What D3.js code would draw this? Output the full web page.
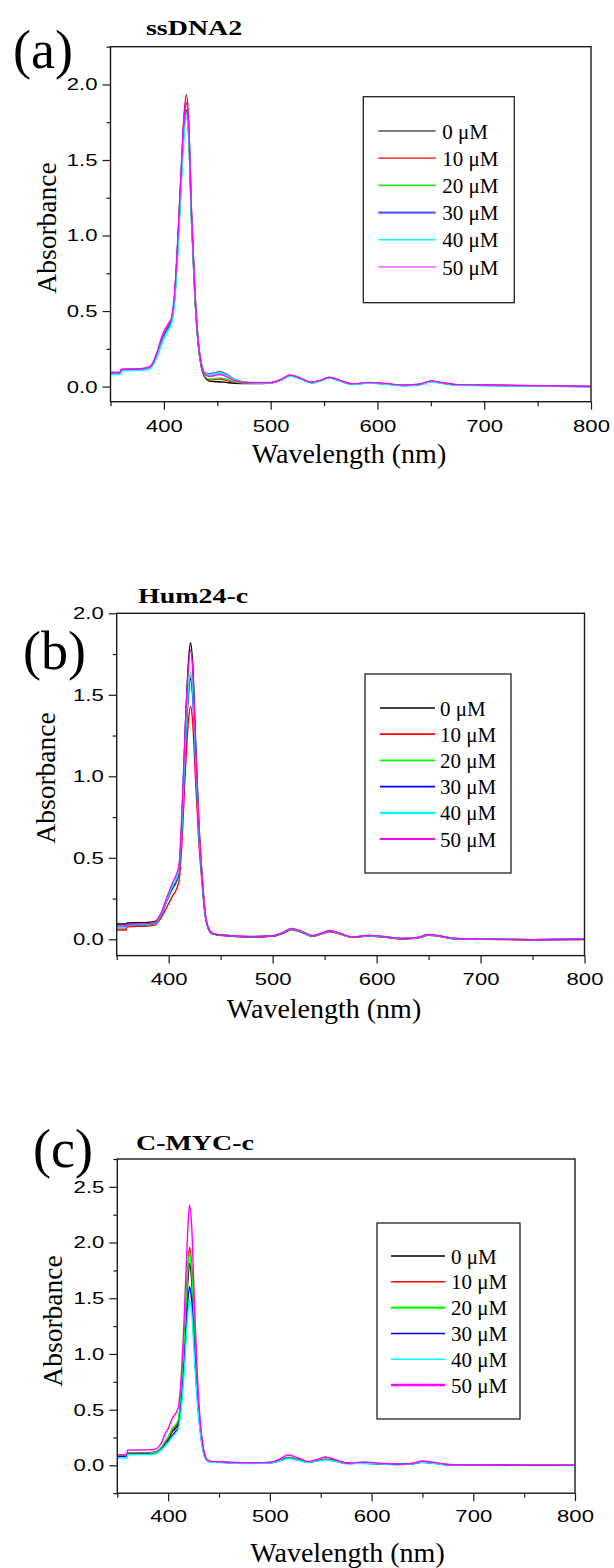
<!DOCTYPE html>
<html><head><meta charset="utf-8">
<script src="https://cdn.jsdelivr.net/npm/d3@7"></script>
<style>
body{margin:0;background:#fff;}
svg{display:block;}
.ytick text{transform-box:fill-box;transform-origin:100% 50%;transform:scaleX(1.3);}
.xtick text{transform-box:fill-box;transform-origin:50% 50%;transform:scaleX(1.3);}
.ptitle{transform-box:fill-box;transform-origin:0% 50%;transform:scaleX(1.3);}
</style></head><body>
<svg id="chart" width="614" height="1568"></svg>
<script>
// ---------- data ----------
const wavelengths = [350,359,360,370,380,387,393,398,400,404,407,410,413,416,419,421,423,426,429,432,435,438,442,447,452,458,466,480,500,510,518,528,538,547,555,565,577,592,607,625,640,650,660,675,700,750,800];
const concLabels = ["0 μM","10 μM","20 μM","30 μM","40 μM","50 μM"];
const xTickValues = [400,500,600,700,800];
const xMinorValues = [350,450,550,650,750];

// (a) ssDNA2
const a0 = [0.090,0.090,0.110,0.112,0.115,0.125,0.200,0.300,0.335,0.390,0.430,0.580,0.920,1.340,1.720,1.830,1.700,1.080,0.600,0.290,0.130,0.065,0.038,0.033,0.032,0.028,0.022,0.020,0.024,0.045,0.072,0.052,0.026,0.040,0.058,0.038,0.015,0.025,0.018,0.007,0.014,0.034,0.024,0.010,0.008,0.004,0.000];
const a1 = [0.090,0.090,0.112,0.114,0.117,0.128,0.205,0.310,0.345,0.400,0.440,0.600,0.960,1.400,1.810,1.930,1.790,1.130,0.630,0.305,0.140,0.072,0.045,0.045,0.050,0.042,0.028,0.022,0.025,0.046,0.074,0.053,0.027,0.041,0.060,0.039,0.016,0.026,0.019,0.008,0.015,0.036,0.025,0.011,0.009,0.005,0.001];
const a2 = [0.085,0.085,0.108,0.110,0.113,0.122,0.190,0.290,0.325,0.380,0.420,0.570,0.900,1.320,1.700,1.820,1.700,1.090,0.610,0.300,0.140,0.075,0.050,0.052,0.058,0.050,0.032,0.023,0.025,0.046,0.073,0.052,0.026,0.040,0.058,0.038,0.015,0.025,0.018,0.007,0.014,0.035,0.024,0.010,0.008,0.004,0.000];
const a3 = [0.090,0.090,0.112,0.114,0.117,0.128,0.205,0.310,0.345,0.400,0.440,0.600,0.950,1.380,1.770,1.880,1.760,1.130,0.640,0.320,0.160,0.095,0.085,0.090,0.100,0.085,0.050,0.028,0.026,0.047,0.075,0.054,0.027,0.041,0.060,0.039,0.016,0.026,0.019,0.008,0.015,0.036,0.025,0.011,0.009,0.004,0.000];
const a4 = [0.080,0.080,0.104,0.106,0.109,0.118,0.185,0.280,0.315,0.370,0.410,0.550,0.870,1.290,1.660,1.780,1.670,1.080,0.610,0.305,0.150,0.090,0.078,0.082,0.090,0.078,0.046,0.026,0.024,0.044,0.070,0.050,0.024,0.038,0.056,0.036,0.013,0.023,0.016,0.005,0.012,0.032,0.022,0.008,0.005,0.002,-0.002];
const a5 = [0.095,0.095,0.115,0.117,0.120,0.132,0.215,0.330,0.365,0.415,0.455,0.620,0.970,1.400,1.780,1.880,1.760,1.120,0.630,0.310,0.150,0.085,0.068,0.072,0.080,0.068,0.040,0.026,0.027,0.048,0.077,0.056,0.029,0.043,0.062,0.041,0.018,0.028,0.021,0.010,0.017,0.038,0.027,0.013,0.011,0.006,0.002];

// (b) Hum24-c
const b0 = [0.094,0.094,0.100,0.102,0.104,0.110,0.160,0.235,0.265,0.315,0.345,0.420,0.780,1.300,1.700,1.820,1.700,1.200,0.720,0.400,0.160,0.070,0.035,0.028,0.025,0.022,0.018,0.016,0.020,0.040,0.062,0.045,0.020,0.035,0.050,0.034,0.012,0.022,0.015,0.004,0.010,0.027,0.020,0.004,0.001,-0.002,0.000];
const b1 = [0.057,0.057,0.077,0.079,0.081,0.088,0.135,0.195,0.220,0.270,0.300,0.360,0.620,1.030,1.340,1.430,1.340,0.960,0.600,0.350,0.150,0.066,0.033,0.026,0.023,0.020,0.016,0.014,0.018,0.037,0.058,0.042,0.018,0.032,0.046,0.031,0.010,0.020,0.013,0.002,0.008,0.024,0.018,0.003,0.000,-0.003,-0.001];
const b2 = [0.070,0.070,0.085,0.087,0.089,0.096,0.150,0.230,0.260,0.315,0.350,0.420,0.720,1.180,1.520,1.620,1.520,1.080,0.660,0.380,0.160,0.070,0.035,0.028,0.025,0.022,0.018,0.016,0.020,0.040,0.062,0.045,0.020,0.035,0.050,0.034,0.012,0.022,0.015,0.004,0.010,0.027,0.020,0.004,0.001,-0.002,0.000];
const b3 = [0.072,0.072,0.087,0.089,0.091,0.098,0.152,0.235,0.265,0.320,0.355,0.425,0.720,1.170,1.500,1.600,1.500,1.070,0.660,0.380,0.160,0.070,0.035,0.028,0.025,0.022,0.018,0.016,0.020,0.040,0.063,0.046,0.021,0.036,0.051,0.035,0.013,0.023,0.016,0.005,0.011,0.028,0.021,0.005,0.001,-0.002,0.000];
const b4 = [0.074,0.074,0.088,0.090,0.092,0.100,0.155,0.240,0.270,0.330,0.365,0.435,0.740,1.200,1.540,1.640,1.540,1.090,0.670,0.385,0.162,0.071,0.036,0.029,0.026,0.023,0.019,0.017,0.021,0.041,0.064,0.047,0.021,0.036,0.052,0.035,0.013,0.023,0.016,0.005,0.011,0.028,0.021,0.005,0.001,-0.002,0.000];
const b5 = [0.082,0.082,0.092,0.094,0.096,0.104,0.165,0.255,0.285,0.350,0.390,0.460,0.820,1.300,1.670,1.775,1.670,1.170,0.710,0.400,0.168,0.074,0.038,0.030,0.027,0.024,0.020,0.018,0.022,0.043,0.067,0.049,0.023,0.038,0.054,0.037,0.014,0.024,0.017,0.005,0.012,0.029,0.022,0.006,0.001,-0.003,0.000];

// (c) C-MYC-c
const c0 = [0.088,0.088,0.108,0.109,0.110,0.115,0.150,0.215,0.235,0.300,0.330,0.380,0.620,1.050,1.600,1.813,1.680,1.120,0.620,0.300,0.120,0.050,0.032,0.030,0.029,0.026,0.022,0.020,0.024,0.045,0.069,0.050,0.030,0.042,0.054,0.038,0.018,0.020,0.015,0.009,0.015,0.030,0.022,0.006,0.002,0.001,0.000];
const c1 = [0.090,0.090,0.110,0.111,0.112,0.117,0.155,0.225,0.245,0.315,0.345,0.395,0.660,1.130,1.730,1.957,1.810,1.200,0.660,0.315,0.125,0.052,0.033,0.031,0.030,0.027,0.023,0.021,0.025,0.046,0.071,0.051,0.031,0.043,0.056,0.039,0.019,0.021,0.016,0.010,0.016,0.031,0.023,0.007,0.002,0.001,0.000];
const c2 = [0.088,0.088,0.108,0.109,0.110,0.116,0.155,0.230,0.255,0.330,0.360,0.410,0.670,1.120,1.690,1.909,1.770,1.170,0.650,0.310,0.122,0.051,0.032,0.030,0.029,0.026,0.022,0.020,0.024,0.045,0.070,0.050,0.030,0.042,0.055,0.038,0.018,0.020,0.015,0.009,0.015,0.030,0.022,0.006,0.002,0.001,0.000];
const c3 = [0.078,0.078,0.100,0.101,0.102,0.107,0.140,0.195,0.215,0.270,0.300,0.345,0.560,0.930,1.420,1.603,1.490,1.000,0.560,0.275,0.110,0.046,0.030,0.028,0.027,0.024,0.020,0.018,0.022,0.042,0.065,0.047,0.028,0.040,0.051,0.036,0.016,0.019,0.014,0.008,0.014,0.028,0.020,0.005,0.001,0.000,0.000];
const c4 = [0.065,0.065,0.095,0.096,0.097,0.102,0.135,0.185,0.205,0.255,0.285,0.330,0.520,0.870,1.320,1.484,1.390,0.940,0.530,0.265,0.105,0.044,0.028,0.026,0.025,0.022,0.018,0.016,0.020,0.040,0.060,0.044,0.026,0.038,0.048,0.034,0.015,0.017,0.013,0.007,0.013,0.027,0.019,0.004,0.000,-0.001,-0.001];
const c5 = [0.092,0.092,0.137,0.138,0.139,0.145,0.195,0.300,0.330,0.420,0.460,0.520,0.820,1.380,2.060,2.337,2.170,1.420,0.760,0.350,0.135,0.056,0.036,0.033,0.032,0.029,0.025,0.023,0.027,0.058,0.093,0.066,0.033,0.055,0.075,0.048,0.019,0.030,0.020,0.010,0.018,0.039,0.028,0.008,0.003,0.001,0.000];

const colorsA = ["#000000","#ff0000","#22e022","#5a5aff","#00ffff","#ff00ff"];
const colorsBC = ["#000000","#ff0000","#00ff00","#0000ff","#00ffff","#ff00ff"];

const yTicksA = [0,0.5,1.0,1.5,2.0];
const yMinorA = [-0.25,0.25,0.75,1.25,1.75,2.25];
const yTicksB = [0,0.5,1.0,1.5,2.0];
const yMinorB = [0.25,0.75,1.25,1.75];
const yTicksC = [0,0.5,1.0,1.5,2.0,2.5];
const yMinorC = [-0.25,0.25,0.75,1.25,1.75,2.25,2.75];

// ---------- layout ----------
const panels = [
  {tag:"(a)", title:"ssDNA2", series:[a0,a1,a2,a3,a4,a5], colors:colorsA,
   yDomain:[-0.1,2.25], yTicks:yTicksA, yMinor:yMinorA,
   L:110.5, R:591, T:46.7, B:401.7, xPad:10,
   tagX:13, tagY:68, titleX:146, titleY:35.5,
   ylabX:56, ylabY:228, xlabX:349, xlabY:463,
   leg:{x0:363.3,y0:96.7,x1:514.3,y1:302.7, lx0:378.3, lx1:435.7, tx:442.3, ry0:131, dy:27.2},
   legW:[1.2,1.2,1.6,2.4,1.6,1.2]},
  {tag:"(b)", title:"Hum24-c", series:[b0,b1,b2,b3,b4,b5], colors:colorsBC,
   yDomain:[-0.1,2.0], yTicks:yTicksB, yMinor:yMinorB,
   L:116.7, R:584.5, T:613.3, B:955.6, xPad:9,
   tagX:23, tagY:669, titleX:138, titleY:603,
   ylabX:55, ylabY:778, xlabX:324, xlabY:1018,
   leg:{x0:365,y0:674,x1:511,y1:873, lx0:380, lx1:435, tx:440, ry0:708, dy:26.2},
   legW:[1.5,1.8,1.8,1.8,2.2,2.2]},
  {tag:"(c)", title:"C-MYC-c", series:[c0,c1,c2,c3,c4,c5], colors:colorsBC,
   yDomain:[-0.25,2.75], yTicks:yTicksC, yMinor:yMinorC,
   L:117.3, R:575, T:1159, B:1493.2, xPad:9,
   tagX:33, tagY:1167, titleX:136, titleY:1150,
   ylabX:62, ylabY:1321, xlabX:347.5, xlabY:1562,
   leg:{x0:377,y0:1223,x1:520,y1:1419, lx0:391, lx1:445, tx:451, ry0:1256, dy:25.8},
   legW:[1.5,1.5,2.4,1.5,1.5,2.4]}
];

const svg = d3.select("#chart");
const serif = "'Liberation Serif','Times New Roman',Times,serif";
const sans = "'Liberation Sans',Arial,Helvetica,sans-serif";
const ink = "#1a1a1a";

panels.forEach((p, pi) => {
  const x = d3.scaleLinear().domain([350,800]).range([p.L,p.R]);
  const y = d3.scaleLinear().domain(p.yDomain).range([p.B,p.T]);

  svg.append("clipPath").attr("id","clip"+pi)
    .append("rect").attr("x",p.L).attr("y",p.T).attr("width",p.R-p.L).attr("height",p.B-p.T);

  const line = d3.line().x((d,i)=>x(wavelengths[i])).y(d=>y(d)).curve(d3.curveMonotoneX);
  const lg = svg.append("g").attr("clip-path","url(#clip"+pi+")");
  p.series.forEach((s,si)=>{
    lg.append("path").datum(s).attr("d",line)
      .attr("fill","none").attr("stroke",p.colors[si]).attr("stroke-width",1.4)
      .attr("stroke-linejoin","round");
  });

  const gx = svg.append("g").attr("class","xtick").attr("transform",`translate(0,${p.B})`);
  gx.call(d3.axisBottom(x).tickValues(xTickValues).tickSize(8).tickPadding(p.xPad).tickFormat(d3.format("d")));
  gx.select(".domain").remove();
  const gxm = svg.append("g").attr("transform",`translate(0,${p.B})`);
  gxm.call(d3.axisBottom(x).tickValues(xMinorValues).tickSize(4.5).tickFormat(""));
  gxm.select(".domain").remove();

  const gy = svg.append("g").attr("class","ytick").attr("transform",`translate(${p.L},0)`);
  gy.call(d3.axisLeft(y).tickValues(p.yTicks).tickSize(8).tickPadding(5).tickFormat(d3.format(".1f")));
  gy.select(".domain").remove();
  const gym = svg.append("g").attr("transform",`translate(${p.L},0)`);
  gym.call(d3.axisLeft(y).tickValues(p.yMinor.filter(v=>v>=p.yDomain[0]&&v<=p.yDomain[1])).tickSize(4).tickFormat(""));
  gym.select(".domain").remove();

  svg.selectAll(".tick line").attr("stroke",ink).attr("stroke-width",1.2);
  [gx,gy].forEach(g=>g.selectAll("text").attr("font-family",sans).attr("font-size",17).attr("fill","#000"));

  svg.append("rect").attr("x",p.L).attr("y",p.T).attr("width",p.R-p.L).attr("height",p.B-p.T)
    .attr("fill","none").attr("stroke",ink).attr("stroke-width",1.4);

  svg.append("text").attr("x",p.tagX).attr("y",p.tagY).attr("font-family",serif)
    .attr("font-size",54).attr("fill","#000").text(p.tag);
  svg.append("text").attr("class","ptitle").attr("x",p.titleX).attr("y",p.titleY).attr("font-family",serif)
    .attr("font-weight","bold").attr("font-size",21.5).attr("fill","#000").text(p.title);
  svg.append("text").attr("transform",`translate(${p.ylabX},${p.ylabY}) rotate(-90)`)
    .attr("text-anchor","middle").attr("font-family",serif).attr("font-size",27.5).attr("fill","#000").text("Absorbance");
  svg.append("text").attr("x",p.xlabX).attr("y",p.xlabY).attr("text-anchor","middle")
    .attr("font-family",serif).attr("font-size",28).attr("fill","#000").text("Wavelength (nm)");

  const L = p.leg;
  svg.append("rect").attr("x",L.x0).attr("y",L.y0).attr("width",L.x1-L.x0).attr("height",L.y1-L.y0)
    .attr("fill","#fff").attr("stroke","#222").attr("stroke-width",1.3);
  concLabels.forEach((lab,i)=>{
    const yy = L.ry0 + i*L.dy;
    svg.append("line").attr("x1",L.lx0).attr("x2",L.lx1).attr("y1",yy).attr("y2",yy)
      .attr("stroke",p.colors[i]).attr("stroke-width",p.legW[i]);
    svg.append("text").attr("x",L.tx).attr("y",yy+7.5).attr("font-family",serif)
      .attr("font-size",21).attr("fill","#000").text(lab);
  });
});
</script>
</body></html>
